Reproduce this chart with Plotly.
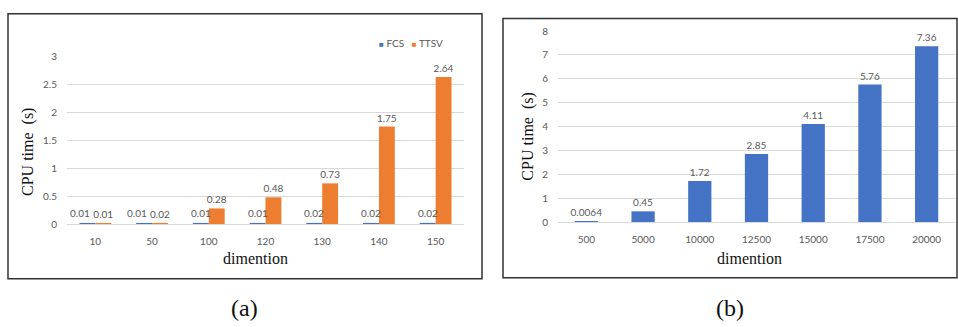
import plotly.graph_objects as go

# Panel (a): FCS vs TTSV
dims_a = ["10", "50", "100", "120", "130", "140", "150"]
fcs_a = [0.01, 0.01, 0.01, 0.01, 0.02, 0.02, 0.02]
ttsv_a = [0.01, 0.02, 0.28, 0.48, 0.73, 1.75, 2.64]

# Panel (b): single series
dims_b = ["500", "5000", "10000", "12500", "15000", "17500", "20000"]
time_b = [0.0064, 0.45, 1.72, 2.85, 4.11, 5.76, 7.36]
labels_b = ["0.0064", "0.45", "1.72", "2.85", "4.11", "5.76", "7.36"]

BLUE = "#4472C4"
ORANGE = "#ED7D31"
GRID = "#D9D9D9"
TICK = "#595959"
SANS = "Lato"
SERIF = "Liberation Serif"

W, H = 958, 327


def px(x):
    return x / W


def py(y):
    return 1 - y / H


label_font = dict(family=SANS, size=10, color=TICK)

fig = go.Figure()

fig.add_trace(go.Bar(
    x=dims_a, y=fcs_a, name="FCS", marker=dict(color=BLUE, line=dict(width=0)),
    xaxis="x", yaxis="y", showlegend=False,
))
fig.add_trace(go.Bar(
    x=dims_a, y=ttsv_a, name="TTSV", marker=dict(color=ORANGE, line=dict(width=0)),
    text=[f"{v:.2f}" for v in ttsv_a], textposition="outside", cliponaxis=False,
    constraintext="none", textfont=label_font,
    xaxis="x", yaxis="y", showlegend=False,
))
fig.add_trace(go.Bar(
    x=dims_b, y=time_b, marker=dict(color=BLUE, line=dict(width=0)), width=0.41,
    text=labels_b, textposition="outside", cliponaxis=False,
    constraintext="none", textfont=label_font,
    xaxis="x2", yaxis="y2", showlegend=False,
))

# FCS value labels sit over the left bar of each group; when the TTSV label
# beside it is at the same height, nudge it further left so the two don't collide.
# Annotations on a category axis are placed by category index.
for i, (v, other) in enumerate(zip(fcs_a, ttsv_a)):
    shift = -15 if other < 0.1 else -8
    fig.add_annotation(x=i, y=v, xref="x", yref="y", text=f"{v:.2f}",
                       showarrow=False, xshift=shift, yshift=2,
                       xanchor="center", yanchor="bottom", font=label_font)

axis_x = dict(tickfont=dict(family=SANS, size=10, color=TICK),
              showline=False, ticks="", ticklabelstandoff=10)
axis_y = dict(tickfont=dict(family=SANS, size=10, color=TICK),
              showline=False, ticks="", ticklabelstandoff=9)

fig.update_layout(
    width=W, height=H,
    margin=dict(l=0, r=0, t=0, b=0),
    paper_bgcolor="white", plot_bgcolor="white",
    barmode="group", bargap=0.44, bargroupgap=0,
    showlegend=False,
    xaxis=dict(domain=[px(67), px(464)], anchor="y", type="category",
               range=[-0.5, len(dims_a) - 0.5], showgrid=False, **axis_x),
    yaxis=dict(domain=[py(226), py(52)], anchor="x", range=[0, 3], dtick=0.5,
               showgrid=True, gridcolor=GRID, gridwidth=1,
               zeroline=True, zerolinecolor=GRID, zerolinewidth=1, **axis_y),
    xaxis2=dict(domain=[px(558), px(955)], anchor="y2", type="category",
                range=[-0.5, len(dims_b) - 0.5], showgrid=False, **axis_x),
    yaxis2=dict(domain=[py(224), py(25)], anchor="x2", range=[0, 8], dtick=1,
                showgrid=True, gridcolor=GRID, gridwidth=1,
                zeroline=True, zerolinecolor=GRID, zerolinewidth=1, **axis_y),
)

# Frames around each panel
frame = dict(type="rect", xref="paper", yref="paper",
             line=dict(color="#333333", width=1.5), fillcolor="rgba(0,0,0,0)")
fig.add_shape(x0=px(8), x1=px(482), y0=py(283), y1=py(7), **frame)
fig.add_shape(x0=px(503), x1=px(957), y0=py(282), y1=py(12), **frame)

title_font = dict(family=SERIF, size=16, color="#111111")
ann = dict(xref="paper", yref="paper", showarrow=False)

# Axis titles
fig.add_annotation(x=px(28), y=py(151), text="CPU time\u00a0\u00a0(s)", textangle=-90,
                   font=title_font, xanchor="center", yanchor="middle", **ann)
fig.add_annotation(x=px(528), y=py(135), text="CPU time\u00a0\u00a0(s)", textangle=-90,
                   font=title_font, xanchor="center", yanchor="middle", **ann)
fig.add_annotation(x=px(255.5), y=py(262), text="dimention", font=title_font,
                   xanchor="center", yanchor="middle", **ann)
fig.add_annotation(x=px(749.5), y=py(262), text="dimention", font=title_font,
                   xanchor="center", yanchor="middle", **ann)

# Legend for panel (a)
legend_text = (
    f"<span style='color:{BLUE};font-size:8px'>■</span> FCS\u00a0\u00a0\u00a0"
    f"<span style='color:{ORANGE};font-size:8px'>■</span> TTSV"
)
fig.add_annotation(x=px(377), y=py(38), text=legend_text,
                   font=dict(family=SANS, size=10, color=TICK),
                   xanchor="left", yanchor="middle", **ann)

# Panel captions
cap_font = dict(family=SERIF, size=24, color="#111111")
fig.add_annotation(x=px(244), y=py(313), text="(a)", font=cap_font,
                   xanchor="center", yanchor="middle", **ann)
fig.add_annotation(x=px(730), y=py(313), text="(b)", font=cap_font,
                   xanchor="center", yanchor="middle", **ann)

fig.write_html("out.html")
